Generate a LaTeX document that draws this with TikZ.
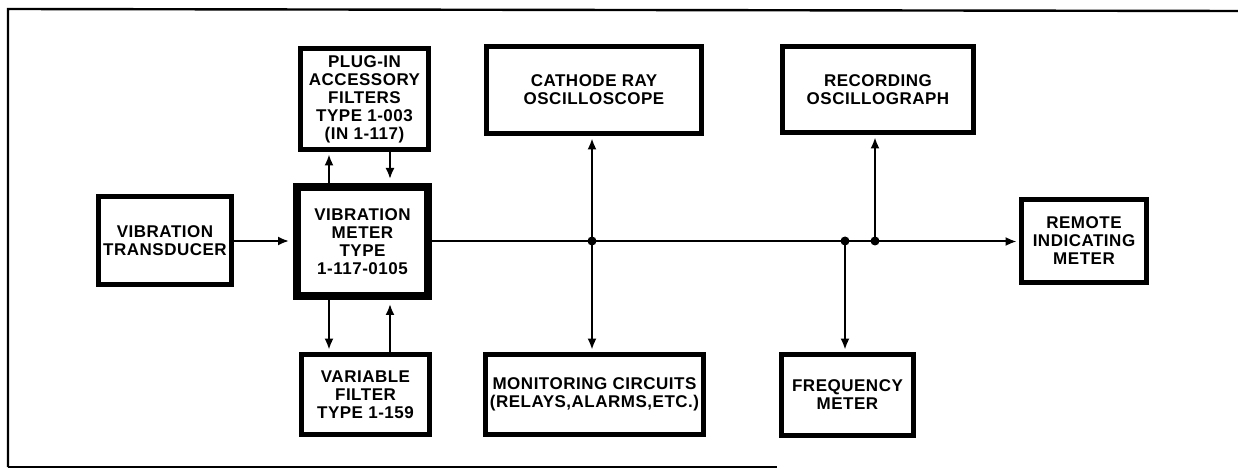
\documentclass[tikz,border=0pt]{standalone}
\usepackage{fontspec}
\setmainfont[LetterSpace=3]{Liberation Sans}
\usepackage{tikz}
\usetikzlibrary{arrows.meta}

\begin{document}
\begin{tikzpicture}[x=0.5pt, y=-0.5pt,
  blk/.style={draw, line width=2.5pt, align=center, inner sep=1pt, font=\bfseries\fontsize{8.5}{9}\selectfont},
  mainblk/.style={blk, line width=4pt},
  dot/.style={circle, fill, inner sep=0pt, minimum size=4.5pt},
  sig/.style={line width=1pt, shorten >=1.2pt, -{Latex[length=5.5pt,width=4.5pt]}}]
  \useasboundingbox (0,0) rectangle (1238,470);
  % frame
  \draw[line width=1.2pt] (8,467) -- (8,9) -- (1238,11);
  \draw[line width=1.2pt] (8,467) -- (777,467);
  % blocks
  \node[blk, minimum width=66.5pt, minimum height=44pt] (trans) at (165,241) {VIBRATION\\TRANSDUCER};
  \node[mainblk, minimum width=65.5pt, minimum height=54.5pt] (meter) at (362.5,241.5) {VIBRATION\\METER\\TYPE\\1-117-0105};
  \node[blk, minimum width=64pt, minimum height=50.5pt] (plug) at (364.5,99) {PLUG-IN\\ACCESSORY\\FILTERS\\TYPE 1-003\\(IN 1-117)};
  \node[blk, minimum width=64pt, minimum height=40pt] (varf) at (365.5,394.5) {VARIABLE\\FILTER\\TYPE 1-159};
  \node[blk, minimum width=107.5pt, minimum height=43.5pt] (cro) at (594,90) {CATHODE RAY\\OSCILLOSCOPE};
  \node[blk, minimum width=109pt, minimum height=40pt] (mon) at (594.5,394.5) {MONITORING CIRCUITS\\(RELAYS,ALARMS,ETC.)};
  \node[blk, minimum width=95.5pt, minimum height=43pt] (rec) at (878,89.5) {RECORDING\\OSCILLOGRAPH};
  \node[blk, minimum width=66pt, minimum height=40.5pt] (freq) at (847.5,395) {FREQUENCY\\METER};
  \node[blk, minimum width=62.5pt, minimum height=41.5pt] (remote) at (1084,241) {REMOTE\\INDICATING\\METER};
  % junctions
  \node[dot] (j1) at (592,241) {};
  \node[dot] (j2) at (845,241) {};
  \node[dot] (j3) at (875,241) {};
  \coordinate (tl) at (329,0);
  \coordinate (tr) at (390,0);
  % signal lines
  \draw[sig, shorten >=2pt] (trans.east) -- (trans.east -| meter.west);
  \draw[sig] (meter.east) -- (meter.east -| remote.west);
  \draw[sig] (meter.north -| tl) -- (plug.south -| tl);
  \draw[sig, shorten >=2pt] (plug.south -| tr) -- (meter.north -| tr);
  \draw[sig] (meter.south -| tl) -- (varf.north -| tl);
  \draw[sig, shorten >=2pt] (varf.north -| tr) -- (meter.south -| tr);
  \draw[sig] (j1.center) -- (j1 |- cro.south);
  \draw[sig] (j1.center) -- (j1 |- mon.north);
  \draw[sig] (j3.center) -- (j3 |- rec.south);
  \draw[sig] (j2.center) -- (j2 |- freq.north);
\end{tikzpicture}
\end{document}
